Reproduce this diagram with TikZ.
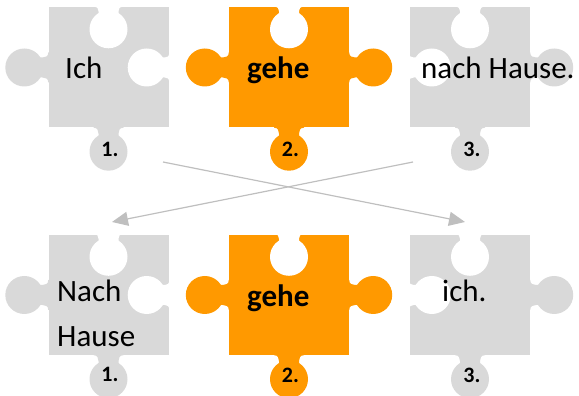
\documentclass[tikz,border=0pt]{standalone}
\usepackage{fontspec}
\setmainfont{Carlito}
\usetikzlibrary{arrows.meta}
\definecolor{pgray}{HTML}{D9D9D9}
\definecolor{porange}{HTML}{FF9900}
\definecolor{agray}{HTML}{BFBFBF}
\tikzset{
  body/.style={rectangle, minimum size=120pt, inner sep=0pt, fill=#1},
  word/.style={font=\fontsize{31}{37}\selectfont, inner sep=0pt, anchor=base west},
  bword/.style={inner sep=0pt, anchor=base west, font=\fontsize{31}{37}\selectfont\bfseries},
  num/.style={font=\fontsize{22}{26}\selectfont\bfseries, inner sep=0pt, anchor=base},
  conn/.style={draw=agray, line width=1.2pt, -{Triangle[length=16pt,width=14pt]}},
  knob/.pic={
    \fill[#1] (0,24) circle[radius=19];
    \fill[#1] (-15,-0.5) -- (-15,0) .. controls (-11,0) and (-10,3) .. (-10,6) -- (-10,12) -- (10,12) -- (10,6) .. controls (10,3) and (11,0) .. (15,0) -- (15,-0.5) -- cycle;
  },
  hole/.pic={
    \fill[white] (0,-22) circle[radius=19];
    \fill[white] (-10,-12) -- (-10,-4) .. controls (-10,-1) and (-11,0.5) .. (-15,0.5) -- (15,0.5) .. controls (11,0.5) and (10,-1) .. (10,-4) -- (10,-12) -- cycle;
  }
}
\begin{document}
\begin{tikzpicture}[x=1pt,y=1pt]
\useasboundingbox (0,0) rectangle (579,396);
% bodies
\node[body=pgray]   (p1t) at (108.5,328.5) {};
\node[body=porange] (p2t) at (289,328.5) {};
\node[body=pgray]   (p3t) at (470,328.5) {};
\node[body=pgray]   (p1b) at (108.5,101) {};
\node[body=porange] (p2b) at (289,101) {};
\node[body=pgray]   (p3b) at (470,101) {};
% knobs and holes
\foreach \r in {t,b}{
  \pic[rotate=90]  at (p1\r.west)  {knob=pgray};
  \pic[rotate=180] at (p1\r.south) {knob=pgray};
  \pic[rotate=90]  at (p2\r.west)  {knob=porange};
  \pic[rotate=-90] at (p2\r.east)  {knob=porange};
  \pic[rotate=180] at (p2\r.south) {knob=porange};
  \pic[rotate=-90] at (p3\r.east)  {knob=pgray};
  \pic[rotate=180] at (p3\r.south) {knob=pgray};
  \pic at (p1\r.north) {hole};
  \pic[rotate=-90] at (p1\r.east) {hole};
  \pic at (p2\r.north) {hole};
  \pic at (p3\r.north) {hole};
  \pic[rotate=90] at (p3\r.west) {hole};
}
% words
\node[word]  (w1t) at (65,317)  {Ich};
\node[bword] (w2t) at (247,317) {gehe};
\node[word]  (w3t) at (421,317) {nach Hause.};
\node[word]  (w1b) at (57,94)   {Nach};
\node[word]  (w1c) at (57,49)   {Hause};
\node[bword] (w2b) at (247,89)  {gehe};
\node[word]  (w3b) at (442,94)  {ich.};
% numbers
\node[num] (n1t) at (110,239) {1.};
\node[num] (n2t) at (290.5,239) {2.};
\node[num] (n3t) at (472,239) {3.};
\node[num] (n1b) at (110,14) {1.};
\node[num] (n2b) at (290.5,13) {2.};
\node[num] (n3b) at (472,13) {3.};
% connectors
\coordinate (a1) at (163,234);
\coordinate (a3) at (465,174);
\coordinate (b3) at (413,234);
\coordinate (b1) at (112,174);
\draw[conn] (a1) -- (a3);
\draw[conn] (b3) -- (b1);
\end{tikzpicture}
\end{document}
